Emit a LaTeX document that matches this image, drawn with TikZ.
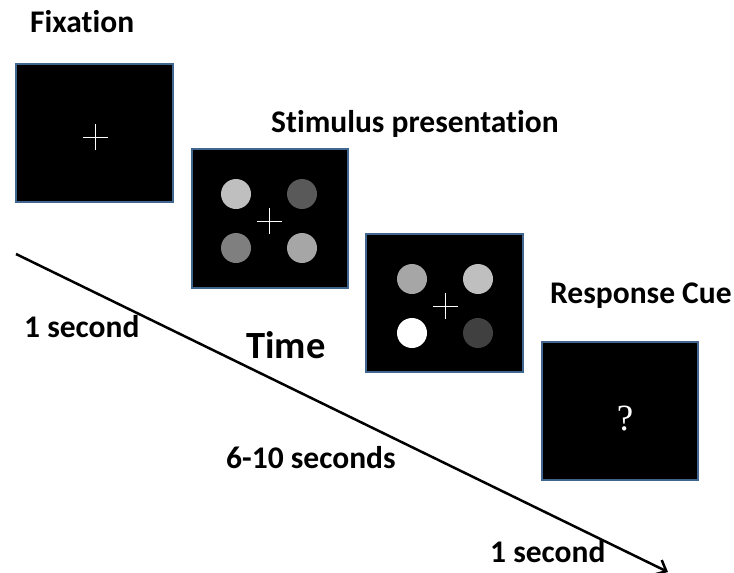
\documentclass[tikz,border=0pt]{standalone}
\usepackage{fontspec}
\setmainfont{Carlito}[Ligatures={NoCommon}]
\newfontfamily\qfont{Liberation Serif}
\usetikzlibrary{arrows.meta,calc}
\definecolor{frame}{HTML}{41668F}
\definecolor{g1}{HTML}{BFBFBF}
\definecolor{g2}{HTML}{595959}
\definecolor{g3}{HTML}{7F7F7F}
\definecolor{g4}{HTML}{A6A6A6}
\definecolor{g5}{HTML}{404040}
\tikzset{
  screen/.style={draw=frame, line width=1.5pt, fill=black, minimum width=#1, minimum height=138pt, inner sep=0pt},
  dot/.style={circle, fill=#1, minimum size=30pt, inner sep=0pt},
  lbl/.style={anchor=base west, inner sep=0pt, font=\fontsize{31.5}{34}\selectfont\bfseries},
  crossline/.style={draw=white, line width=1pt},
}
\begin{document}
\begin{tikzpicture}[x=1pt,y=-1pt]
\useasboundingbox (0,0) rectangle (734,573);
% screens
\node[screen=157pt] (s1) at (94.5,133) {};
\node[screen=156pt, minimum height=139pt] (s2) at (270,218.5) {};
\node[screen=157pt] (s3) at (444.5,303) {};
\node[screen=156pt] (s4) at (620,411) {};
% crosses
\coordinate (c1) at ($(s1.center)+(0.5,4)$);
\coordinate (c2) at ($(s2.center)+(-1,2.5)$);
\coordinate (c3) at ($(s3.center)+(0.5,3)$);
\foreach \c in {c1,c2,c3}{
  \draw[crossline] ($(\c)+(-12.5,0)$) -- ($(\c)+(12.5,0)$);
  \draw[crossline] ($(\c)+(0,-13)$) -- ($(\c)+(0,13)$);
}
% circles screen 2
\node[dot=g1] (a1) at ($(c2)+(-33,-27)$) {};
\node[dot=g2] (a2) at ($(c2)+(33,-27)$) {};
\node[dot=g3] (a3) at ($(c2)+(-33,27)$) {};
\node[dot=g4] (a4) at ($(c2)+(33,27)$) {};
% circles screen 3
\node[dot=g4] (b1) at ($(c3)+(-33,-27)$) {};
\node[dot=g1] (b2) at ($(c3)+(33,-27)$) {};
\node[dot=white] (b3) at ($(c3)+(-33,27)$) {};
\node[dot=g5] (b4) at ($(c3)+(33,27)$) {};
% question mark
\node[text=white, font=\qfont\fontsize{37}{40}\selectfont, inner sep=0pt] (q) at ($(s4.center)+(5,8)$) {?};
% time arrow
\coordinate (t0) at (16,254);
\coordinate (t1) at (668,572);
\draw[line width=2.5pt, -{Straight Barb[length=9pt,width=16pt,line width=2.5pt]}] (t0) -- (t1);
% labels
\node[lbl] (l1) at (30,32) {Fixation};
\node[lbl] (l2) at (271,132) {Stimulus presentation};
\node[lbl] (l3) at (550,303) {Response Cue};
\node[lbl, font=\fontsize{38.5}{42}\selectfont\bfseries] (l4) at (246,358) {Time};
\node[lbl] (l5) at (24,337) {1 second};
\node[lbl] (l6) at (226,468) {6-10 seconds};
\node[lbl] (l7) at (490,562) {1 second};
\end{tikzpicture}
\end{document}
